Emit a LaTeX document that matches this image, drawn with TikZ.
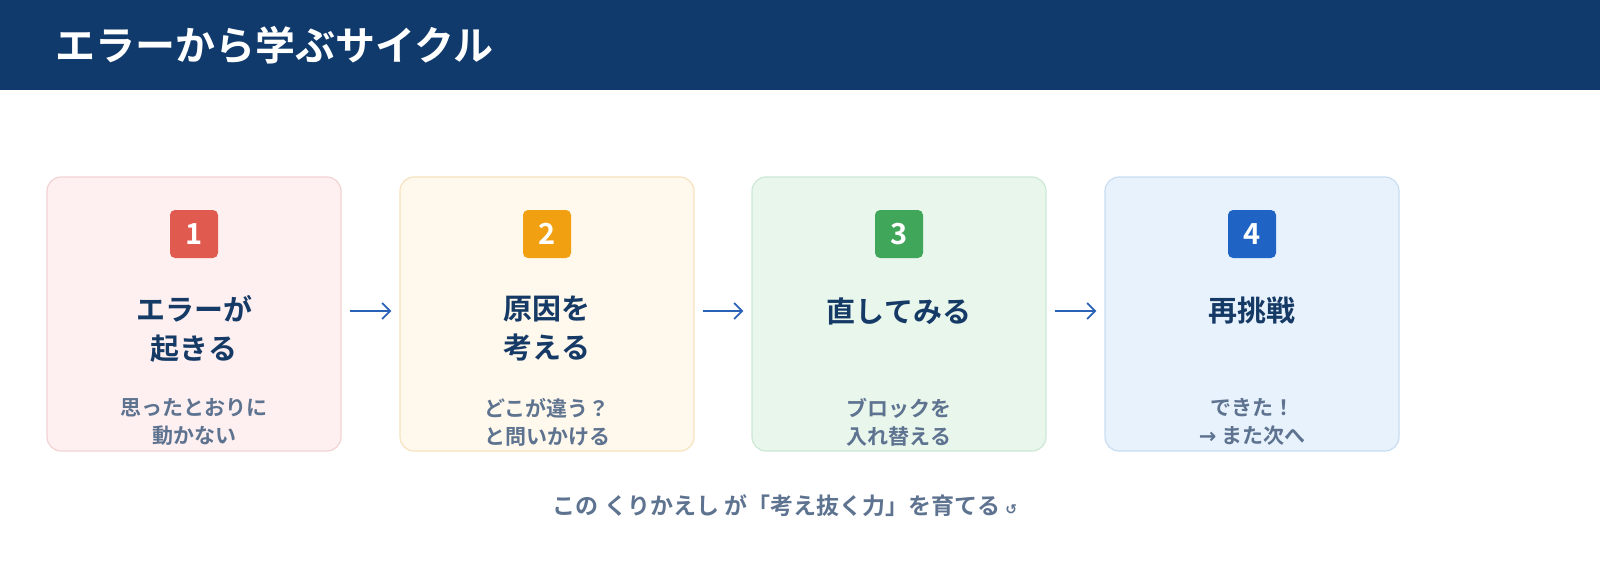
\documentclass[tikz,border=0pt]{standalone}
\usepackage{fontspec}
\setmainfont{Noto Sans CJK JP}[BoldFont={* Bold}]
\newfontfamily\djv{DejaVu Sans}
\usetikzlibrary{arrows.meta}
\definecolor{hdr}{HTML}{0F3A6B}
\definecolor{ttl}{HTML}{163A66}
\definecolor{sub}{HTML}{5E7390}
\definecolor{arr}{HTML}{2A62B8}
\begin{document}
\begin{tikzpicture}[x=1pt,y=-1pt,
  card/.style={draw=#1,line width=1.2pt,rounded corners=14pt,minimum width=294pt,minimum height=274pt,inner sep=0pt},
  badge/.style={fill=#1,rounded corners=5pt,minimum width=48pt,minimum height=48pt,text=white,font=\bfseries\fontsize{29}{29}\selectfont,inner sep=0pt},
  ctitle/.style={text=ttl,font=\bfseries\fontsize{29}{39}\selectfont,align=center},
  csub/.style={text=sub,font=\bfseries\fontsize{21}{28}\selectfont,align=center},
  flow/.style={draw=arr,line width=1.8pt,-{Straight Barb[length=8pt,width=16pt]}}]
\useasboundingbox (0,0) rectangle (1600,560);
\fill[hdr] (0,0) rectangle (1600,90);
\node[anchor=west,text=white,font=\bfseries\fontsize{40}{40}\selectfont] (title) at (52,45) {エラーから学ぶサイクル};
\foreach \i/\x/\f/\b/\bd in {1/194/FEF0F0/F2D2D2/E05A4F,2/547/FFF8EC/F6E2BE/F0A010,3/899/E9F6EC/CDE8D4/3FA65A,4/1252/E8F2FC/C9DDF2/1F63C4}{
  \definecolor{f\i}{HTML}{\f}\definecolor{b\i}{HTML}{\b}\definecolor{d\i}{HTML}{\bd}
  \node[card=b\i,fill=f\i] (c\i) at (\x,314) {};
  \node[badge=d\i] (n\i) at (\x,234) {\i};
}
\node[ctitle] (t1) at (194,329) {エラーが\\起きる};
\node[ctitle] (t2) at (547,329) {原因を\\考える};
\node[ctitle] (t3) at (899,311) {直してみる};
\node[ctitle] (t4) at (1252,311) {再挑戦};
\node[csub] (s1) at (194,422) {思ったとおりに\\動かない};
\node[csub] (s2) at (547,422) {どこが違う？\\と問いかける};
\node[csub] (s3) at (899,422) {ブロックを\\入れ替える};
\node[csub] (s4) at (1252,422) {できた！\\{\djv →} また次へ};
\draw[flow] ([xshift=8pt]c1.east|-t3) -- ([xshift=-8pt]c2.west|-t3);
\draw[flow] ([xshift=8pt]c2.east|-t3) -- ([xshift=-8pt]c3.west|-t3);
\draw[flow] ([xshift=8pt]c3.east|-t3) -- ([xshift=-8pt]c4.west|-t3);
\node[text=sub,font=\bfseries\fontsize{23}{23}\selectfont] (foot) at (785,506) {この くりかえし が「考え抜く力」を育てる {\djv\bfseries\fontsize{14}{14}\selectfont ↺}};
\end{tikzpicture}
\end{document}
